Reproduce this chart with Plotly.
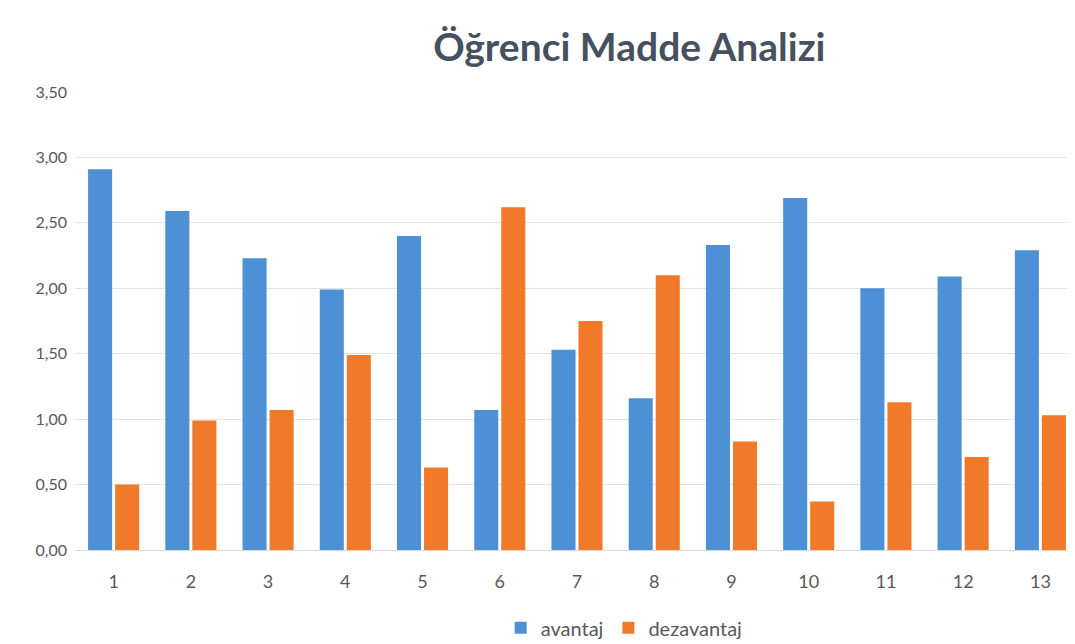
import plotly.graph_objects as go

categories = [str(i) for i in range(1, 14)]
avantaj = [2.91, 2.59, 2.23, 1.99, 2.40, 1.07, 1.53, 1.16, 2.33, 2.69, 2.00, 2.09, 2.29]
dezavantaj = [0.50, 0.99, 1.07, 1.49, 0.63, 2.62, 1.75, 2.10, 0.83, 0.37, 1.13, 0.71, 1.03]
y_ticks = [0, 0.5, 1.0, 1.5, 2.0, 2.5, 3.0, 3.5]

fig = go.Figure()
fig.add_trace(go.Bar(x=categories, y=avantaj, name="avantaj",
                     marker=dict(color="#4D90D6", line=dict(width=0))))
fig.add_trace(go.Bar(x=categories, y=dezavantaj, name="dezavantaj",
                     marker=dict(color="#F07A2A", line=dict(width=0))))

fig.update_layout(
    width=1075, height=644,
    margin=dict(l=67, r=4, t=84, b=102),
    paper_bgcolor="white", plot_bgcolor="white",
    separators=",.",
    barmode="group", bargap=0.30, bargroupgap=0.11,
    title=dict(text="<b>Öğrenci Madde Analizi</b>", xref="container", x=0.578, xanchor="center",
               y=0.939, yanchor="middle",
               font=dict(family="Lato, Noto Sans, sans-serif", size=39, color="#46505E")),
    font=dict(family="Lato, Noto Sans, sans-serif", size=16, color="#595959"),
    xaxis=dict(type="category", showgrid=False, showline=True, linecolor="#D9D9D9",
               ticks="", ticklabelstandoff=15, tickfont=dict(size=18, color="#595959")),
    yaxis=dict(range=[0, 3.5], tickvals=y_ticks, tickformat=".2f",
               showgrid=True, gridcolor="#E3E3E3", gridwidth=1, zeroline=False,
               showline=False, ticks="", ticklen=0, ticklabelstandoff=7,
               tickfont=dict(size=16, color="#595959")),
    legend=dict(orientation="h", x=0.547, xanchor="center", y=-0.17, yanchor="middle",
                font=dict(size=20, color="#595959"), itemsizing="constant",
                itemwidth=30, traceorder="normal"),
)

fig.write_html("out.html")
